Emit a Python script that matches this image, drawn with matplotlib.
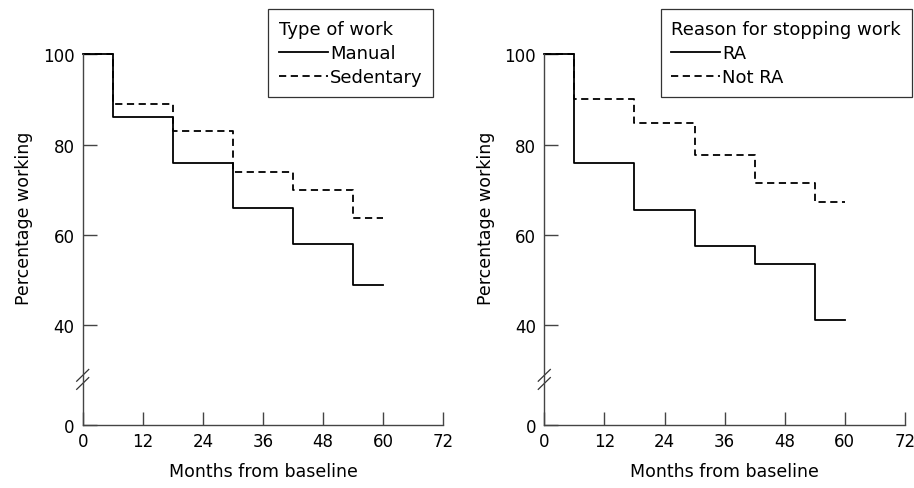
import numpy as np
import matplotlib
matplotlib.use("Agg")
from matplotlib import pyplot as plt

plt.rcParams['font.family'] = ['DejaVu Sans']

# step times (months) and survival percentages
months = [0, 6, 18, 30, 42, 54, 60]
manual = [100, 86, 76, 66, 58, 49, 49]
sedentary = [100, 89, 83, 74, 70, 63.7, 63.7]
ra = [100, 76, 65.5, 57.5, 53.5, 41.2, 41.2]
not_ra = [100, 90, 84.7, 77.6, 71.4, 67.3, 67.3]

x_ticks = [0, 12, 24, 36, 48, 60, 72]
y_ticks = [40, 60, 80, 100]
y_zero = 17.9   # where "0" sits on the broken axis
y_break = 28

panels = [
    ("Type of work", manual, sedentary, ["Manual", "Sedentary"], 0.0905, 0.972),
    ("Reason for stopping work", ra, not_ra, ["RA", "Not RA"], 0.5955, 1.019),
]

fig = plt.figure(figsize=(9.14, 4.89), dpi=100)
fs = 12

for title, solid, dashed, labels, left, legx in panels:
    ax = fig.add_axes([left, 0.1288, 0.3946, 0.8507])
    l1, = ax.step(months, solid, where='post', color='black', lw=1.3,
                  clip_on=False)
    l2, = ax.step(months, dashed, where='post', color='black', lw=1.3,
                  ls=(0, (4, 2.5)), clip_on=False)
    ax.set_xlim(0, 72)
    ax.set_ylim(y_zero, 110)
    for s in ['top', 'right']:
        ax.spines[s].set_visible(False)
    ax.spines['left'].set_bounds(y_zero, 100)
    for s in ['left', 'bottom']:
        ax.spines[s].set_color('#444444')
        ax.spines[s].set_linewidth(1.0)
    ax.set_xticks(x_ticks)
    ax.set_yticks([y_zero] + y_ticks)
    ax.set_yticklabels(["0"] + [str(v) for v in y_ticks])
    ax.tick_params(axis='x', direction='in', length=9.5, width=1.0,
                   color='#444444', labelsize=fs, pad=5)
    ax.tick_params(axis='y', direction='in', length=10, width=1.0,
                   color='#444444', labelsize=fs, pad=6)
    ax.set_xlabel("Months from baseline", fontsize=12.5, labelpad=9)
    ax.set_ylabel("Percentage working", fontsize=12.5, labelpad=7)

    # axis break marks
    for off in [-0.9, 0.9]:
        ax.plot([-1.2, 1.2], [y_break + off - 1.3, y_break + off + 1.3],
                color='#333333', lw=0.9, clip_on=False)

    leg = ax.legend([l1, l2], labels, title=title, loc='upper right',
                    bbox_to_anchor=(legx, 1.0), borderaxespad=0,
                    fontsize=13, title_fontsize=13, frameon=True,
                    fancybox=False, edgecolor='black', handlelength=2.7,
                    handletextpad=0.1, borderpad=0.6, labelspacing=0.35)
    leg._legend_box.align = "left"
    leg.get_frame().set_linewidth(0.9)

fig.savefig("out.png", dpi=100)
